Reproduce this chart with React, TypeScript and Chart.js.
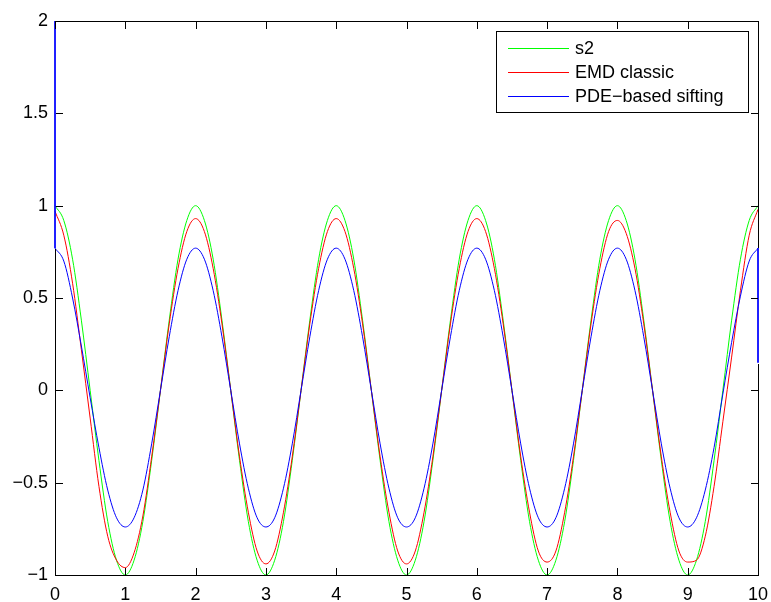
import React, { useEffect, useRef } from "react";
import { Chart, registerables } from "chart.js";

Chart.register(...registerables);

// sample positions (x)
const xs = [
  0, 0.125, 0.25, 0.375, 0.5, 0.625, 0.75, 0.875,
  1, 1.125, 1.25, 1.375, 1.5, 1.625, 1.75, 1.875,
  2, 2.125, 2.25, 2.375, 2.5, 2.625, 2.75, 2.875,
  3, 3.125, 3.25, 3.375, 3.5, 3.625, 3.75, 3.875,
  4, 4.125, 4.25, 4.375, 4.5, 4.625, 4.75, 4.875,
  5, 5.125, 5.25, 5.375, 5.5, 5.625, 5.75, 5.875,
  6, 6.125, 6.25, 6.375, 6.5, 6.625, 6.75, 6.875,
  7, 7.125, 7.25, 7.375, 7.5, 7.625, 7.75, 7.875,
  8, 8.125, 8.25, 8.375, 8.5, 8.625, 8.75, 8.875,
  9, 9.125, 9.25, 9.375, 9.5, 9.625, 9.75, 9.875,
  10,
];

const s2 = [
  1, 0.92, 0.71, 0.38, 0, -0.38, -0.71, -0.92,
  -1, -0.92, -0.71, -0.38, 0, 0.38, 0.71, 0.92,
  1, 0.92, 0.71, 0.38, 0, -0.38, -0.71, -0.92,
  -1, -0.92, -0.71, -0.38, 0, 0.38, 0.71, 0.92,
  1, 0.92, 0.71, 0.38, 0, -0.38, -0.71, -0.92,
  -1, -0.92, -0.71, -0.38, 0, 0.38, 0.71, 0.92,
  1, 0.92, 0.71, 0.38, 0, -0.38, -0.71, -0.92,
  -1, -0.92, -0.71, -0.38, 0, 0.38, 0.71, 0.92,
  1, 0.92, 0.71, 0.38, 0, -0.38, -0.71, -0.92,
  -1, -0.92, -0.71, -0.38, 0, 0.38, 0.71, 0.92,
  1,
];

const emdClassic = [
  0.97, 0.84, 0.58, 0.22, -0.15, -0.52, -0.79, -0.92,
  -0.96, -0.88, -0.68, -0.36, 0, 0.36, 0.66, 0.86,
  0.93, 0.86, 0.66, 0.36, 0, -0.36, -0.66, -0.87,
  -0.94, -0.87, -0.66, -0.36, 0, 0.36, 0.66, 0.86,
  0.93, 0.86, 0.66, 0.36, 0, -0.36, -0.66, -0.87,
  -0.94, -0.87, -0.66, -0.36, 0, 0.36, 0.66, 0.86,
  0.93, 0.86, 0.66, 0.36, 0, -0.36, -0.66, -0.87,
  -0.93, -0.87, -0.66, -0.36, 0, 0.36, 0.66, 0.86,
  0.92, 0.85, 0.66, 0.36, 0, -0.36, -0.66, -0.87,
  -0.93, -0.92, -0.79, -0.52, -0.17, 0.18, 0.54, 0.84,
  0.98,
];

const pdeSifting = [
  0.77, 0.7, 0.5, 0.24, -0.04, -0.31, -0.54, -0.69,
  -0.74, -0.69, -0.54, -0.29, 0, 0.29, 0.54, 0.71,
  0.77, 0.71, 0.54, 0.29, 0, -0.29, -0.53, -0.69,
  -0.74, -0.69, -0.53, -0.29, 0, 0.29, 0.54, 0.71,
  0.77, 0.71, 0.54, 0.29, 0, -0.29, -0.53, -0.69,
  -0.74, -0.69, -0.53, -0.29, 0, 0.29, 0.54, 0.71,
  0.77, 0.71, 0.54, 0.29, 0, -0.29, -0.53, -0.69,
  -0.74, -0.69, -0.53, -0.29, 0, 0.29, 0.54, 0.71,
  0.77, 0.71, 0.54, 0.29, 0, -0.29, -0.53, -0.69,
  -0.74, -0.69, -0.54, -0.31, -0.02, 0.26, 0.51, 0.7,
  0.77,
];

// vertical edge segments of the PDE curve
const pdeStartX = [0, 0];
const pdeStartY = [2, 0.77];
const pdeEndX = [10, 10];
const pdeEndY = [0.77, 0.15];

const seriesNames = ["s2", "EMD classic", "PDE\u2212based sifting"];
const seriesColors = ["#00ff00", "#ff0000", "#0000ff"];

const xTicks = [0, 1, 2, 3, 4, 5, 6, 7, 8, 9, 10];
const yTicks = [-1, -0.5, 0, 0.5, 1, 1.5, 2];

const FAMILY = '"Liberation Sans", Arial, Helvetica, sans-serif';
const FONT = "18px " + FAMILY;

const pts = (x: number[], y: number[]) => x.map((v, i) => ({ x: v, y: y[i] }));

const frame = {
  id: "frame",
  afterDraw(chart: any) {
    const { ctx, chartArea: a, scales } = chart;
    ctx.save();
    const L = Math.round(a.left);
    const R = Math.round(a.right);
    const T = Math.round(a.top);
    const B = Math.round(a.bottom);
    const yTopBlue = Math.round(scales.y.getPixelForValue(0.77));
    const yEndBlueBot = Math.round(scales.y.getPixelForValue(0.15));
    ctx.fillStyle = "#000000";
    ctx.fillRect(L, T, R - L + 1, 1);
    ctx.fillRect(L, B, R - L + 1, 1);
    // left axis: blue curve edge covers it from top down to start value
    ctx.fillRect(L, yTopBlue + 1, 1, B - yTopBlue);
    // right axis: blue edge covers between 0.77 and 0.15
    ctx.fillRect(R, T, 1, yTopBlue - T);
    ctx.fillRect(R, yEndBlueBot + 1, 1, B - yEndBlueBot);
    const tl = 7;
    xTicks.forEach((v) => {
      const px = Math.round(scales.x.getPixelForValue(v));
      ctx.fillRect(px, B - tl, 1, tl);
      ctx.fillRect(px, T + 1, 1, tl);
    });
    yTicks.forEach((v) => {
      const py = Math.round(scales.y.getPixelForValue(v));
      ctx.fillRect(L + 1, py, tl, 1);
      ctx.fillRect(R - tl, py, tl, 1);
    });

    const bx = 496, by = 31, bw = 252, bh = 81;
    ctx.fillStyle = "#fff";
    ctx.fillRect(bx, by, bw, bh);
    ctx.fillStyle = "#000";
    ctx.fillRect(bx, by, bw + 1, 1);
    ctx.fillRect(bx, by + bh, bw + 1, 1);
    ctx.fillRect(bx, by, 1, bh + 1);
    ctx.fillRect(bx + bw, by, 1, bh + 1);
    ctx.font = FONT;
    ctx.textBaseline = "middle";
    ctx.textAlign = "left";
    const rows = [48, 72, 96];
    seriesNames.forEach((name, i) => {
      ctx.fillStyle = seriesColors[i];
      ctx.fillRect(508, rows[i], 61, 1);
      ctx.fillStyle = "#000";
      ctx.fillText(name, 575, rows[i] + 1);
    });
    ctx.restore();
  },
};

export default function App() {
  const ref = useRef<HTMLCanvasElement>(null);
  useEffect(() => {
    document.body.style.margin = "0";
    const base = {
      fill: false,
      pointRadius: 0,
      borderWidth: 1,
      cubicInterpolationMode: "monotone" as const,
      clip: 1,
    };
    const chart = new Chart(ref.current!, {
      type: "line",
      data: {
        datasets: [
          { ...base, label: seriesNames[2], data: pts(xs, pdeSifting), borderColor: seriesColors[2] },
          { ...base, label: "pdeStart", data: pts(pdeStartX, pdeStartY), borderColor: seriesColors[2], cubicInterpolationMode: "default", tension: 0, clip: false },
          { ...base, label: "pdeEnd", data: pts(pdeEndX, pdeEndY), borderColor: seriesColors[2], cubicInterpolationMode: "default", tension: 0, clip: false },
          { ...base, label: seriesNames[1], data: pts(xs, emdClassic), borderColor: seriesColors[1] },
          { ...base, label: seriesNames[0], data: pts(xs, s2), borderColor: seriesColors[0] },
        ] as any,
      },
      plugins: [frame],
      options: {
        animation: false,
        responsive: false,
        maintainAspectRatio: false,
        layout: { padding: { top: 21, right: 13, left: 0, bottom: 0 } },
        plugins: { legend: { display: false }, tooltip: { enabled: false } },
        scales: {
          x: {
            type: "linear",
            min: 0,
            max: 10,
            afterFit: (s: any) => { s.height = 27; s.paddingLeft = 0; s.paddingRight = 0; },
            afterBuildTicks: (s: any) => { s.ticks = xTicks.map((v) => ({ value: v })); },
            grid: { display: false, drawTicks: false },
            border: { display: false },
            ticks: {
              padding: 9,
              color: "#000",
              font: { family: FAMILY, size: 18 },
              maxRotation: 0,
              autoSkip: false,
              callback: (v: any) => String(v),
            },
          },
          y: {
            type: "linear",
            min: -1,
            max: 2,
            afterFit: (s: any) => { s.width = 55; s.paddingTop = 0; s.paddingBottom = 0; },
            afterBuildTicks: (s: any) => { s.ticks = yTicks.map((v) => ({ value: v })); },
            grid: { display: false, drawTicks: false },
            border: { display: false },
            ticks: {
              padding: 7,
              color: "#000",
              font: { family: FAMILY, size: 18 },
              autoSkip: false,
              callback: (v: any) => String(v).replace("-", "\u2212"),
            },
          },
        },
      },
    });
    return () => chart.destroy();
  }, []);
  return (
    <div style={{ width: 771, height: 602 }}>
      <canvas ref={ref} width={771} height={602} style={{ display: "block", width: 771, height: 602 }} />
    </div>
  );
}
